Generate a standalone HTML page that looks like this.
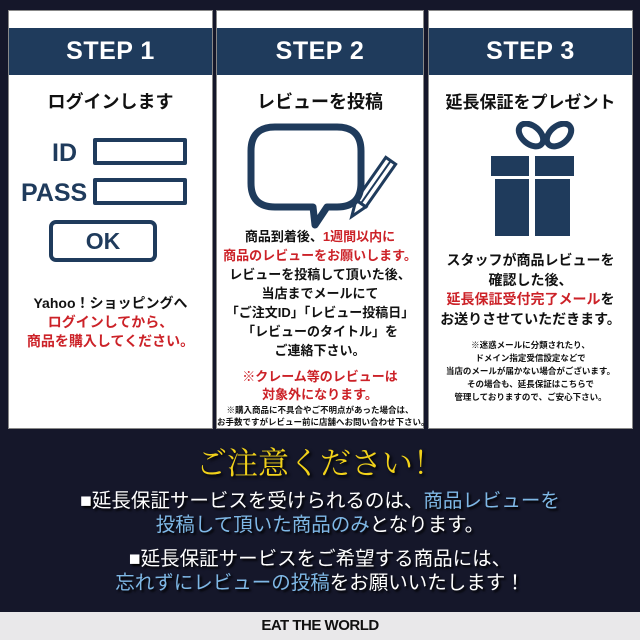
<!DOCTYPE html>
<html><head><meta charset="utf-8"><style>
*{margin:0;padding:0;box-sizing:border-box}
body{width:640px;height:640px;background:#15172a;position:relative;overflow:hidden;font-family:"Liberation Sans","Noto Sans CJK JP",sans-serif}
.col{position:absolute;top:10px;height:419px;background:#fff;border:1px solid #888}
.hd{position:absolute;left:0;right:0;top:17px;height:47px;background:#1f3b5c;color:#fff;font-weight:bold;font-size:25px;text-align:center;line-height:47px;letter-spacing:0.5px}
.tt{position:absolute;left:0;right:0;top:77px;text-align:center;font-weight:bold;font-size:18px;color:#111}
.t{position:absolute;left:0;right:0;text-align:center;font-weight:bold;color:#111;white-space:nowrap}
.r{color:#cc2228}
.b{color:#7fb8e6}
.w{position:absolute;left:0;right:0;text-align:center;color:#fff;font-size:19.5px;white-space:nowrap;text-shadow:2px 2px 2px #000}
</style></head><body>
<div class="col" style="left:8px;width:205px">
<div class="hd">STEP 1</div><div class="tt">ログインします</div>
<div style="position:absolute;left:43px;top:128px;font-size:25px;font-weight:bold;color:#1f3b5c">ID</div>
<div style="position:absolute;left:12px;top:168px;font-size:25px;font-weight:bold;color:#1f3b5c">PASS</div>
<div style="position:absolute;left:84px;top:127px;width:94px;height:27px;border:4px solid #1f3b5c;border-radius:2px"></div>
<div style="position:absolute;left:84px;top:167px;width:94px;height:27px;border:4px solid #1f3b5c;border-radius:2px"></div>
<div style="position:absolute;left:40px;top:209px;width:108px;height:42px;border:4px solid #1f3b5c;border-radius:7px;text-align:center;font-size:23px;font-weight:bold;color:#1f3b5c;line-height:34px">OK</div>
<div class="t" style="top:283px;font-size:14px;line-height:19px">Yahoo！ショッピングへ<br><span class="r">ログインしてから、<br>商品を購入してください。</span></div>
</div>
<div class="col" style="left:216px;width:208px">
<div class="hd">STEP 2</div><div class="tt">レビューを投稿</div>
<svg style="position:absolute;left:0;top:110px" width="208" height="110">
<path d="M58 6 H120 Q144 6 144 30 V62 Q144 86 120 86 H110 L98 104 L96 86 H58 Q34 86 34 62 V30 Q34 6 58 6 Z" fill="none" stroke="#1f3b5c" stroke-width="7" stroke-linejoin="round"/>
<g transform="translate(168 48) rotate(35)"><rect x="-6" y="-10" width="12" height="52" fill="none" stroke="#1f3b5c" stroke-width="3"/><line x1="0" y1="-10" x2="0" y2="42" stroke="#1f3b5c" stroke-width="2"/><path d="M-6 42 L0 58 L6 42 Z" fill="none" stroke="#1f3b5c" stroke-width="3"/></g>
</svg>
<div class="t" style="top:216px;font-size:13px;line-height:19px">商品到着後、<span class="r">1週間以内に</span><br><span class="r">商品のレビューをお願いします。</span><br>レビューを投稿して頂いた後、<br>当店までメールにて<br>「ご注文ID」「レビュー投稿日」<br>「レビューのタイトル」を<br>ご連絡下さい。</div>
<div class="t r" style="top:357px;font-size:13px;line-height:18px">※クレーム等のレビューは<br>対象外になります。</div>
<div class="t" style="top:393px;font-size:8.5px;line-height:12px">※購入商品に不具合やご不明点があった場合は、<br>お手数ですがレビュー前に店舗へお問い合わせ下さい。</div>
</div>
<div class="col" style="left:428px;width:205px">
<div class="hd">STEP 3</div><div class="tt" style="font-size:17px">延長保証をプレゼント</div>
<svg style="position:absolute;left:0;top:110px" width="205" height="130">
<g fill="none" stroke="#1f3b5c" stroke-width="6"><ellipse cx="102" cy="14" rx="14" ry="9" transform="rotate(40 102 14)"/><ellipse cx="130" cy="14" rx="14" ry="9" transform="rotate(-40 130 14)"/></g>
<rect x="62" y="35" width="83" height="20" fill="#1f3b5c"/><rect x="66" y="58" width="75" height="57" fill="#1f3b5c"/>
<rect x="100" y="30" width="6" height="90" fill="#fff"/>
</svg>
<div class="t" style="top:240px;font-size:14px;line-height:19.5px">スタッフが商品レビューを<br>確認した後、<br><span class="r">延長保証受付完了メール</span>を<br>お送りさせていただきます。</div>
<div class="t" style="top:328px;font-size:8.5px;line-height:13px">※迷惑メールに分類されたり、<br>ドメイン指定受信設定などで<br>当店のメールが届かない場合がございます。<br>その場合も、延長保証はこちらで<br>管理しておりますので、ご安心下さい。</div>
</div>
<div style="position:absolute;left:0;right:0;top:438px;text-align:center;font-family:'Liberation Serif','Noto Serif CJK SC',serif;font-size:31px;color:#f2d21a;text-shadow:2px 2px 3px #000">ご注意ください！</div>
<div class="w" style="top:484px">■延長保証サービスを受けられるのは、<span class="b">商品レビューを</span></div>
<div class="w" style="top:508px"><span class="b">投稿して頂いた商品のみ</span>となります。</div>
<div class="w" style="top:542px">■延長保証サービスをご希望する商品には、</div>
<div class="w" style="top:566px"><span class="b">忘れずにレビューの投稿</span>をお願いいたします！</div>
<div style="position:absolute;left:0;right:0;top:612px;height:28px;background:#e9e8ea;text-align:center;font-weight:bold;font-size:15px;line-height:28px;color:#111;letter-spacing:-0.5px">EAT THE WORLD</div>
</body></html>
